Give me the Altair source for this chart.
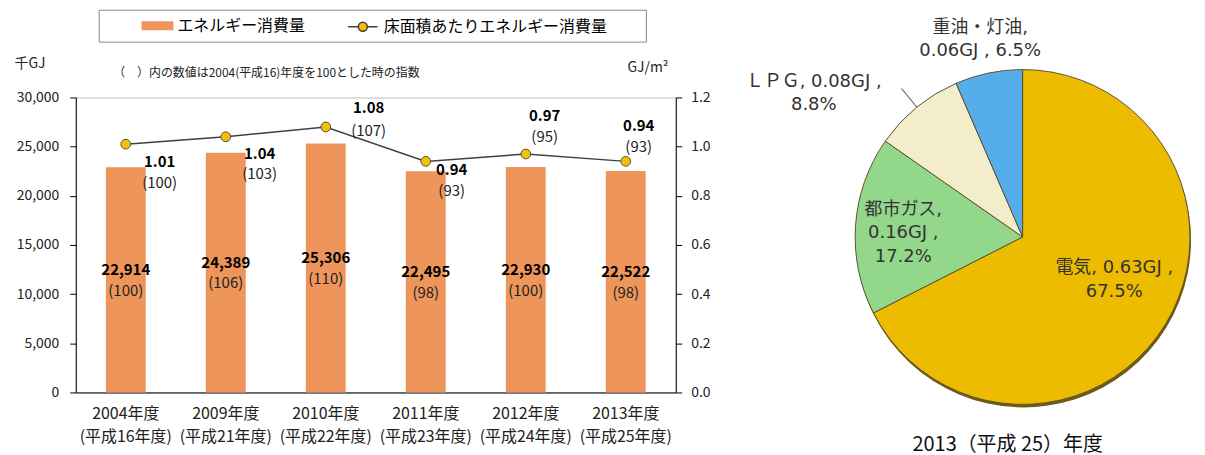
import altair as alt
import pandas as pd

# ---------------- data ----------------
fiscal_years = ["2004年度", "2009年度", "2010年度", "2011年度", "2012年度", "2013年度"]
heisei_years = ["(平成16年度)", "(平成21年度)", "(平成22年度)", "(平成23年度)", "(平成24年度)", "(平成25年度)"]
energy = [22914, 24389, 25306, 22495, 22930, 22522]          # 千GJ
energy_index = [100, 106, 110, 98, 100, 98]
intensity = [1.01, 1.04, 1.08, 0.94, 0.97, 0.94]             # GJ/m2
intensity_index = [100, 103, 107, 93, 95, 93]
series_names = ["エネルギー消費量", "床面積あたりエネルギー消費量"]

fuels = ["電気", "都市ガス", "ＬＰＧ", "重油・灯油"]
fuel_gj = [0.63, 0.16, 0.08, 0.06]
fuel_pct = [67.5, 17.2, 8.8, 6.5]

subtitle = "（　）内の数値は2004(平成16)年度を100とした時の指数"
pie_title = "2013（平成 25）年度"

FONT = "Noto Sans CJK JP"
PIE_FONT = "DejaVu Sans, Noto Sans CJK JP"
BAR_COLOR = "#ED955A"
LINE_COLOR = "#404040"
MARKER_COLOR = "#F2C200"
FUEL_COLORS = ["#EDBC00", "#92D78A", "#F4EDCC", "#55AEEA"]

# ---------------- left chart ----------------
year_labels = [f"{a}\n{b}" for a, b in zip(fiscal_years, heisei_years)]
df = pd.DataFrame({
    "fy": fiscal_years,
    "year": year_labels,
    "energy": energy,
    "energy_lbl": [f"{v:,}" for v in energy],
    "energy_idx": [f"({v})" for v in energy_index],
    "intensity": intensity,
    "int_lbl": [f"{v:.2f}" for v in intensity],
    "int_idx": [f"({v})" for v in intensity_index],
})

x_enc = alt.X(
    "year:N", sort=year_labels, scale=alt.Scale(paddingInner=0, paddingOuter=0),
    title=subtitle,
    axis=alt.Axis(labelExpr="split(datum.label, '\\n')", labelLineHeight=23, labelFontSize=16,
                  labelAngle=0, labelPadding=13, ticks=False, domainColor="black", labelColor="#222",
                  titleX=37, titleY=-321, titleAlign="left", titleBaseline="middle",
                  titleFontSize=12, titleFontWeight="normal", titleColor="#222"),
)

left_axis = alt.Axis(titleAngle=0, titleX=-62, titleY=-34, titleAlign="left", titleBaseline="middle",
                     titleFontWeight="normal", titleFontSize=14, titleColor="#222",
                     values=[0, 5000, 10000, 15000, 20000, 25000, 30000], format=",.0f",
                     labelFontSize=14, labelColor="#222", tickSize=6, labelPadding=11, grid=False,
                     domainColor="black", tickColor="black")
right_axis = alt.Axis(orient="right", titleAngle=0, titleX=-49, titleY=-30, titleAlign="left",
                      titleBaseline="middle", titleFontWeight="normal", titleFontSize=14, titleColor="#222",
                      values=[0, 0.2, 0.4, 0.6, 0.8, 1.0, 1.2], format=".1f",
                      labelFontSize=14, labelColor="#222", tickSize=6, labelPadding=9, grid=False,
                      domainColor="black", tickColor="black")

y_left = alt.Y("energy:Q", scale=alt.Scale(domain=[0, 30000]), title="千GJ", axis=left_axis)
y_left_half = alt.Y("half:Q", scale=alt.Scale(domain=[0, 30000]), title="千GJ", axis=left_axis)
y_right = alt.Y("intensity:Q", scale=alt.Scale(domain=[0, 1.2]), title="GJ/m²", axis=right_axis)

bar_sym = "M-2,-0.56H2V0.56H-2Z"
line_sym = "M-1.85,0H-0.56M0.56,0H1.85M-0.56,0A0.56,0.56,0,1,1,0.56,0A0.56,0.56,0,1,1,-0.56,0Z"

# bar legend carries the frame around both entries
bar_legend = alt.Legend(
    orient="none", legendX=23, legendY=-88, direction="horizontal",
    title=" ", titleOrient="right", titlePadding=334, titleFontSize=16,
    strokeColor="#888888", padding=8, symbolSize=256, symbolOffset=43, labelOffset=12,
    labelFontSize=16, labelColor="black", labelFont=FONT, symbolType=bar_sym,
    symbolStrokeWidth=0, labelLimit=300,
)
line_legend = alt.Legend(
    orient="none", legendX=271, legendY=-88, direction="horizontal", title=None,
    padding=8, symbolSize=256, symbolOffset=0, labelOffset=12,
    labelFontSize=16, labelColor="black", labelFont=FONT, symbolType=line_sym,
    symbolFillColor=MARKER_COLOR, symbolStrokeWidth=1.5, symbolOpacity=1, labelLimit=400,
)

base = alt.Chart(df)
bars = base.transform_calculate(series=f"'{series_names[0]}'").mark_bar(size=40).encode(
    x=x_enc, y=y_left,
    fill=alt.Fill("series:N", scale=alt.Scale(domain=[series_names[0]], range=[BAR_COLOR]), legend=bar_legend))
bar_txt1 = base.transform_calculate(half="datum.energy / 2").mark_text(
    dy=-10, fontSize=15, fontWeight="bold", color="black").encode(x=x_enc, y=y_left_half, text="energy_lbl:N")
bar_txt2 = base.transform_calculate(half="datum.energy / 2").mark_text(
    dy=11, fontSize=15, color="#222").encode(x=x_enc, y=y_left_half, text="energy_idx:N")
left_group = alt.layer(bars, bar_txt1, bar_txt2)

line = base.transform_calculate(series=f"'{series_names[1]}'").mark_line(strokeWidth=1.5).encode(
    x=x_enc, y=y_right,
    stroke=alt.Stroke("series:N", scale=alt.Scale(domain=[series_names[1]], range=[LINE_COLOR]), legend=line_legend))
points = base.mark_circle(size=95, color=MARKER_COLOR, opacity=1, stroke="#505050", strokeWidth=1).encode(
    x=x_enc, y=y_right)

# label offsets (dx, dy of value line, dy of index line)
label_offsets = {
    "2004年度": (34, 18, 39),
    "2009年度": (34, 17, 37),
    "2010年度": (43, -19, 4),
    "2011年度": (26, 9, 30),
    "2012年度": (19, -38, -17),
    "2013年度": (13, -35, -14),
}
right_layers = [line, points]
for fy, (dx, dy1, dy2) in label_offsets.items():
    sel = base.transform_filter(alt.datum.fy == fy)
    right_layers.append(sel.mark_text(dx=dx, dy=dy1, fontSize=15, fontWeight="bold", color="black").encode(
        x=x_enc, y=y_right, text="int_lbl:N"))
    right_layers.append(sel.mark_text(dx=dx, dy=dy2, fontSize=15, color="#222").encode(
        x=x_enc, y=y_right, text="int_idx:N"))
right_group = alt.layer(*right_layers)

left_chart = alt.layer(left_group, right_group).resolve_scale(y="independent").properties(
    width=602, height=296, view=alt.ViewBackground(stroke="#BFBFBF", strokeWidth=1))

# ---------------- pie chart ----------------
pie_labels = [
    f"{fuels[0]}, {fuel_gj[0]:.2f}GJ ,\n{fuel_pct[0]}%",
    f"{fuels[1]},\n{fuel_gj[1]:.2f}GJ ,\n{fuel_pct[1]}%",
    f"{fuels[2]}, {fuel_gj[2]:.2f}GJ ,\n{fuel_pct[2]}%",
    f"{fuels[3]},\n{fuel_gj[3]:.2f}GJ , {fuel_pct[3]}%",
]
pie_df = pd.DataFrame({"fuel": fuels, "gj": fuel_gj, "pct": fuel_pct,
                       "order": list(range(len(fuels))), "label": pie_labels})
theta_scale = alt.Scale(domain=[0, 100])
pbase = alt.Chart(pie_df).transform_window(
    cum="sum(pct)", sort=[alt.SortField("order")], frame=[None, 0]
).transform_calculate(mid="datum.cum - datum.pct / 2", mid2="datum.cum - datum.pct / 2 + 0.03")

theta_stack = alt.Theta("pct:Q", stack=True, scale=theta_scale)
# dark rim under the pie (slight 3D look)
rim = pbase.mark_arc(outerRadius=168, color="#6E5C14", xOffset=1, yOffset=3).encode(
    theta=theta_stack, order=alt.Order("order:Q"))
arcs = pbase.mark_arc(outerRadius=168, stroke="#5C5230", strokeWidth=1).encode(
    theta=theta_stack,
    order=alt.Order("order:Q"),
    color=alt.Color("fuel:N", scale=alt.Scale(domain=fuels, range=FUEL_COLORS), legend=None),
)
# label placement per slice: (radius, dx, dy of first line)
pie_label_pos = {
    "電気": (102, 5, -22),
    "都市ガス": (120, 0, -19),
    "ＬＰＧ": (200, -83, -1),
    "重油・灯油": (200, -2, -14),
}
pie_layers = [rim, arcs]
for f, (r, dx, dy) in pie_label_pos.items():
    pie_layers.append(pbase.transform_filter(alt.datum.fuel == f).mark_text(
        radius=r, dx=dx, dy=dy, fontSize=18, font=PIE_FONT, lineBreak="\n", lineHeight=23.5,
        color="#333333", align="center", baseline="middle").encode(
        theta=alt.Theta("mid:Q", stack=None, scale=theta_scale), text="label:N"))
leader = pbase.transform_filter(alt.datum.fuel == fuels[2]).mark_arc(
    innerRadius=168, outerRadius=192, fill="#555555", stroke="#555555", strokeWidth=0.6).encode(
    theta=alt.Theta("mid:Q", stack=None, scale=theta_scale), theta2="mid2:Q")
pie_layers.append(leader)

pie_chart = alt.layer(*pie_layers).properties(
    width=280, height=280,
    title=alt.TitleParams(pie_title, orient="bottom", fontSize=20, fontWeight="normal",
                          color="#111", dx=-15, offset=28),
)

chart = alt.hconcat(left_chart, pie_chart, spacing=208, bounds="flush").resolve_scale(
    color="independent"
).properties(
    padding={"left": 5, "top": 0, "right": 5, "bottom": 0}
).configure(font=FONT).configure_view(strokeWidth=0)

chart.save("out.html", embed_options={"renderer": "svg", "actions": False})
